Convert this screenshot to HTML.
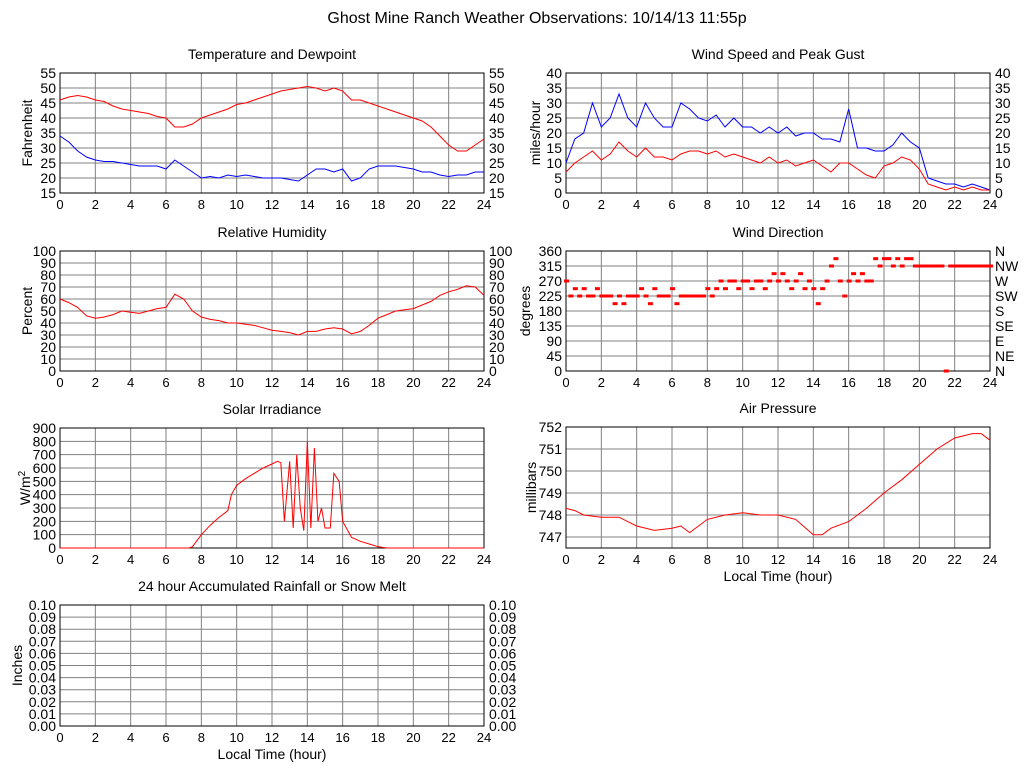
<!DOCTYPE html>
<html><head><meta charset="utf-8">
<style>body{margin:0;background:#fff;}svg text{font-family:"Liberation Sans",sans-serif;}</style>
</head><body>
<svg id="c" width="1024" height="768" xmlns="http://www.w3.org/2000/svg">
<text x="537" y="23" font-size="16" text-anchor="middle">Ghost Mine Ranch Weather Observations: 10/14/13 11:55p</text>
</svg>
<script>
const xTicks=[0,2,4,6,8,10,12,14,16,18,20,22,24];
const hh=[0,0.5,1,1.5,2,2.5,3,3.5,4,4.5,5,5.5,6,6.5,7,7.5,8,8.5,9,9.5,10,10.5,11,11.5,12,12.5,13,13.5,14,14.5,15,15.5,16,16.5,17,17.5,18,18.5,19,19.5,20,20.5,21,21.5,22,22.5,23,23.5,24];
const tempF=[46,47,47.5,47,46,45.5,44,43,42.5,42,41.5,40.5,40,37,37,38,40,41,42,43,44.5,45,46,47,48,49,49.5,50,50.5,50,49,50,49,46,46,45,44,43,42,41,40,39,37,34,31,29,29,31,33];
const dewF=[34,32,29,27,26,25.5,25.5,25,24.5,24,24,24,23,26,24,22,20,20.5,20,21,20.5,21,20.5,20,20,20,19.5,19,21,23,23,22,23,19,20,23,24,24,24,23.5,23,22,22,21,20.5,21,21,22,22];
const gust=[10,18,20,30,22,25,33,25,22,30,25,22,22,30,28,25,24,26,22,25,22,22,20,22,20,22,19,20,20,18,18,17,28,15,15,14,14,16,20,17,15,5,4,3,3,2,3,2,1];
const wind=[7,10,12,14,11,13,17,14,12,15,12,12,11,13,14,14,13,14,12,13,12,11,10,12,10,11,9,10,11,9,7,10,10,8,6,5,9,10,12,11,8,3,2,1,2,1,2,1,1];
const rh=[60,57,53,46,44,45,47,50,49,48,50,52,53,64,60,50,45,43,42,40,40,39,38,36,34,33,32,30,33,33,35,36,35,31,33,38,44,47,50,51,52,55,58,63,66,68,71,70,63];
const dirDeg=[270,225,247,225,247,225,225,247,225,225,225,202,225,202,225,225,225,247,225,202,247,225,225,225,247,202,225,225,225,225,225,225,247,225,247,270,247,270,270,247,270,270,247,270,270,247,270,292,270,292,270,247,270,292,247,270,247,202,247,270,315,337,270,225,270,292,270,292,270,270,337,315,337,337,315,337,315,337,337,315,315,315,315,315,315,315,0,315,315,315,315,315,315,315,315,315,315];
const solarH=[0,7.3,7.5,8,8.5,9,9.5,9.7,10,10.5,11,11.5,12,12.3,12.5,12.7,13,13.2,13.4,13.6,13.8,14,14.2,14.4,14.6,14.8,15,15.3,15.5,15.8,16,16.5,17,17.5,18,18.5,24];
const solarW=[0,0,10,100,170,230,280,400,470,520,560,600,630,650,640,200,650,150,700,300,130,800,150,750,200,300,150,150,560,500,200,80,50,30,10,0,0];
const presH=[0,0.5,1,2,3,4,5,6,6.5,7,8,9,10,11,12,13,14,14.5,15,16,17,18,19,20,21,22,23,23.5,24];
const presMb=[748.3,748.2,748.0,747.9,747.9,747.5,747.3,747.4,747.5,747.2,747.8,748.0,748.1,748.0,748.0,747.8,747.1,747.1,747.4,747.7,748.3,749.0,749.6,750.3,751.0,751.5,751.7,751.7,751.4];
const tempTicks=[15,20,25,30,35,40,45,50,55];
const windTicks=[0,5,10,15,20,25,30,35,40];
const rhTicks=[0,10,20,30,40,50,60,70,80,90,100];
const dirTicks=[0,45,90,135,180,225,270,315,360];
const dirLabels=['N','NE','E','SE','S','SW','W','NW','N'];
const solTicks=[0,100,200,300,400,500,600,700,800,900];
const presTicks=[747,748,749,750,751,752];
const rainTicks=[0,0.01,0.02,0.03,0.04,0.05,0.06,0.07,0.08,0.09,0.10];

const svg=document.getElementById('c');const NS='http://www.w3.org/2000/svg';
function mk(t,a,p){const e=document.createElementNS(NS,t);for(const k in a)e.setAttribute(k,a[k]);(p||svg).appendChild(e);return e;}
function txt(s,a,p){const e=mk('text',a,p);e.textContent=s;return e;}
function panel(o){
 const g=mk('g',{});
 
 
 const X=v=>o.x0+(v/24)*(o.x1-o.x0);
 const Y=v=>o.y1-(v-o.ymin)/(o.ymax-o.ymin)*(o.y1-o.y0);
 xTicks.forEach(t=>{if(t>0&&t<24){const l=mk('line',{x1:X(t),x2:X(t),y1:o.y0,y2:o.y1,stroke:'#808080'},g);}
  const tl=txt(String(t),{x:X(t),y:o.y1+16,'font-size':13,'text-anchor':'middle'},g);});
 o.ticks.forEach((t,i)=>{const y=Y(t);if(y>o.y0+1&&y<o.y1-1){const l=mk('line',{x1:o.x0,x2:o.x1,y1:y,y2:y,stroke:'#808080'},g);}
  const lab=o.fmt?o.fmt(t):String(t);
  const a=txt(lab,{x:o.x0-4,y:y+5,'font-size':14,'text-anchor':'end'},g);
  if(o.right!==false){const rl=o.rlabels?o.rlabels[i]:lab;const b=txt(rl,{x:o.x1+5,y:y+5,'font-size':14},g);}});
 const r=mk('rect',{x:o.x0,y:o.y0,width:o.x1-o.x0,height:o.y1-o.y0,fill:'none',stroke:'#000'},g);
 const ti=txt(o.title,{x:(o.x0+o.x1)/2,y:o.y0-14,'font-size':14,'text-anchor':'middle'},g);
 const yl=txt(o.ylab,{x:0,y:0,'font-size':14,'text-anchor':'middle',transform:`translate(${o.ylx},${(o.y0+o.y1)/2}) rotate(-90)`},g);
 if(o.sup){yl.textContent='W/m';const s=mk('tspan',{dy:-5,'font-size':10},yl);s.textContent='2';}
 if(o.xlab){const xl=txt('Local Time (hour)',{x:(o.x0+o.x1)/2,y:o.y1+33,'font-size':14,'text-anchor':'middle'},g);}
 (o.series||[]).forEach(s=>{const p=mk('polyline',{points:s.x.map((h,i)=>X(h)+','+Y(s.y[i])).join(' '),fill:'none',stroke:s.c,'stroke-width':1},g);});
 if(o.dots){o.dots.forEach((d,i)=>{const rc=mk('rect',{x:X(i*0.25)-2,y:Y(d)-1.5,width:5,height:3,fill:'red'},g);});}
}
panel({name:'temperature-panel',title:'Temperature and Dewpoint',ylab:'Fahrenheit',ylx:32,x0:60,x1:484,y0:73,y1:193,ymin:15,ymax:55,ticks:tempTicks,series:[{x:hh,y:tempF,c:'red',name:'temperature-line'},{x:hh,y:dewF,c:'blue',name:'dewpoint-line'}]});
panel({name:'wind-speed-panel',title:'Wind Speed and Peak Gust',ylab:'miles/hour',ylx:540,x0:566,x1:990,y0:73,y1:193,ymin:0,ymax:40,ticks:windTicks,series:[{x:hh,y:gust,c:'blue',name:'gust-line'},{x:hh,y:wind,c:'red',name:'wind-speed-line'}]});
panel({name:'humidity-panel',title:'Relative Humidity',ylab:'Percent',ylx:32,x0:60,x1:484,y0:251,y1:371,ymin:0,ymax:100,ticks:rhTicks,series:[{x:hh,y:rh,c:'red',name:'humidity-line'}]});
panel({name:'wind-direction-panel',title:'Wind Direction',ylab:'degrees',ylx:530,x0:566,x1:990,y0:251,y1:371,ymin:0,ymax:360,ticks:dirTicks,rlabels:dirLabels,dots:dirDeg});
panel({name:'solar-panel',title:'Solar Irradiance',ylab:'W/m2',sup:true,ylx:30,x0:60,x1:484,y0:428,y1:548,ymin:0,ymax:900,ticks:solTicks,right:false,series:[{x:solarH,y:solarW,c:'red',name:'solar-line'}]});
panel({name:'pressure-panel',title:'Air Pressure',ylab:'millibars',ylx:536,x0:566,x1:990,y0:427,y1:548,ymin:746.5,ymax:752,ticks:presTicks,right:false,xlab:true,series:[{x:presH,y:presMb,c:'red',name:'pressure-line'}]});
panel({name:'rainfall-panel',title:'24 hour Accumulated Rainfall or Snow Melt',ylab:'Inches',ylx:22,x0:60,x1:484,y0:605,y1:726,ymin:0,ymax:0.1,ticks:rainTicks,fmt:v=>v.toFixed(2),xlab:true});
</script>
</body></html>
